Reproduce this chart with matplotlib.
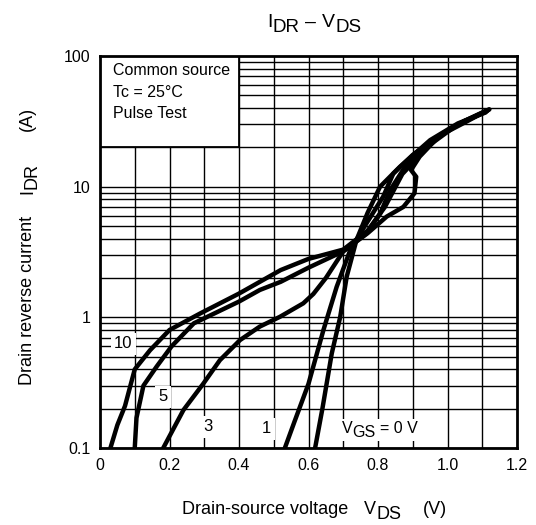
import matplotlib
matplotlib.use('Agg')
import matplotlib.pyplot as plt
from matplotlib.patches import Rectangle

plt.rcParams['font.family'] = ['Liberation Sans', 'DejaVu Sans']

# I_DR vs V_DS curves, one per gate voltage
v10 = [0.03, 0.05, 0.072, 0.10, 0.144, 0.20, 0.288, 0.40, 0.52, 0.60, 0.70,
       0.77, 0.82, 0.87, 0.95, 1.03, 1.12]
i10 = [0.1, 0.15, 0.21, 0.40, 0.56, 0.80, 1.07, 1.52, 2.3, 2.8, 3.3,
       4.6, 7.0, 12.5, 21, 30, 39]

v5 = [0.10, 0.105, 0.125, 0.163, 0.206, 0.27, 0.40, 0.46, 0.52, 0.60, 0.70,
      0.77, 0.825, 0.873, 0.905, 0.91, 0.895, 0.92, 0.98, 1.05, 1.11]
i5 = [0.1, 0.17, 0.30, 0.42, 0.60, 0.90, 1.32, 1.62, 1.87, 2.4, 3.2,
      4.4, 5.9, 7.0, 8.9, 11.9, 13.4, 17, 25, 32, 38]

v3 = [0.182, 0.24, 0.297, 0.345, 0.403, 0.46, 0.518, 0.585, 0.614, 0.65, 0.70,
      0.767, 0.806, 0.835, 0.88, 0.95, 1.03, 1.115]
i3 = [0.1, 0.195, 0.31, 0.47, 0.67, 0.85, 1.01, 1.28, 1.51, 2.0, 3.2,
      4.4, 6.2, 9.4, 14.5, 22, 30, 38]

v1 = [0.532, 0.56, 0.60, 0.643, 0.681, 0.72, 0.758, 0.815, 0.844, 0.90, 0.97,
      1.05, 1.12]
i1 = [0.1, 0.16, 0.31, 0.80, 1.71, 3.27, 4.8, 8.4, 12.6, 17.5, 24, 31, 39]

v0 = [0.619, 0.64, 0.667, 0.691, 0.71, 0.738, 0.77, 0.806, 0.863, 0.95, 1.03,
      1.11]
i0 = [0.1, 0.2, 0.53, 1.0, 2.05, 3.9, 6.3, 10, 14.2, 22.7, 30.5, 37]

xticks = [0, 0.2, 0.4, 0.6, 0.8, 1.0, 1.2]
xticklabels = ["0", "0.2", "0.4", "0.6", "0.8", "1.0", "1.2"]
yticks = [0.1, 1, 10, 100]
yticklabels = ["0.1", "1", "10", "100"]

W, H = 536, 525
fig = plt.figure(figsize=(W / 100, H / 100), dpi=100, facecolor="white")
ax = fig.add_axes([100 / W, 1 - 448 / H, 417 / W, 392 / H])
ax.set_xlim(0, 1.2)
ax.set_yscale("log")
ax.set_ylim(0.1, 100)
R = fig.canvas.get_renderer()


def rich(xpx, ypx, parts, rot=False):
    """parts: (text, size, drop_px, gap_px_after); xpx/ypx = baseline start."""
    pos = 0.0
    for s, size, drop, gap in parts:
        if rot:
            t = fig.text((xpx + drop) / W, 1 - (ypx - pos) / H, s, fontsize=size,
                         rotation=90, rotation_mode="anchor",
                         ha="left", va="baseline")
            pos += t.get_window_extent(R).height + gap
        else:
            t = fig.text((xpx + pos) / W, 1 - (ypx + drop) / H, s, fontsize=size,
                         ha="left", va="baseline")
            pos += t.get_window_extent(R).width + gap


# log-paper grid
for k in range(1, 12):
    ax.axvline(k * 0.1, color="black", lw=1.0, zorder=1)
for dec in (0.1, 1, 10):
    for m in range(1, 10):
        ax.axhline(dec * m, color="black", lw=1.0, zorder=1)

# condition box in the upper left
ax.add_patch(Rectangle((0, 20), 0.4, 80, facecolor="white", edgecolor="black",
                       lw=1.3, zorder=2))
for txt, yv in [("Common source", 78), ("Tc = 25°C", 53), ("Pulse Test", 36)]:
    ax.text(0.037, yv, txt, fontsize=11.5, va="center", ha="left", zorder=3)

for v, i in [(v10, i10), (v5, i5), (v3, i3), (v1, i1), (v0, i0)]:
    ax.plot(v, i, color="black", lw=3.2, solid_joinstyle="round",
            solid_capstyle="round", zorder=4)

wb = dict(facecolor="white", edgecolor="none", pad=2.5)
for txt, xv, yv in [("10", 0.067, 0.63), ("5", 0.182, 0.247),
                    ("3", 0.312, 0.146), ("1", 0.48, 0.141)]:
    ax.text(xv, yv, txt, fontsize=12, ha="center", va="center", bbox=wb, zorder=5)
ax.add_patch(Rectangle((0.685, 0.114), 0.23, 0.052, facecolor="white",
                       edgecolor="none", zorder=5))
ax.text(0.695, 0.14, "V", fontsize=11.5, ha="left", va="center", zorder=6)
ax.text(0.727, 0.131, "GS", fontsize=11.5, ha="left", va="center", zorder=6)
ax.text(0.805, 0.14, "= 0 V", fontsize=11.5, ha="left", va="center", zorder=6)

ax.set_xticks(xticks)
ax.set_xticklabels(xticklabels, fontsize=11.5)
ax.set_yticks(yticks)
ax.set_yticklabels(yticklabels, fontsize=11.5)
ax.minorticks_off()
ax.tick_params(length=0, pad=7)
for s in ax.spines.values():
    s.set_linewidth(2.0)
    s.set_zorder(7)

rich(267, 27, [("I", 14, 0, 0), ("DR", 13.5, 5, 6), ("–", 14, 0, 6),
               ("V", 14, 0, 0), ("DS", 13.5, 5, 0)])
rich(182, 514, [("Drain-source voltage", 13, 0, 16), ("V", 13, 0, 0),
                ("DS", 13, 5, 22), ("(V)", 13, 0, 0)])
rich(32, 385, [("Drain reverse current", 13, 0, 22), ("I", 13, 0, 0),
               ("DR", 13, 5, 32), ("(A)", 13, 0, 0)], rot=True)

fig.savefig("out.png", dpi=100, facecolor="white")
